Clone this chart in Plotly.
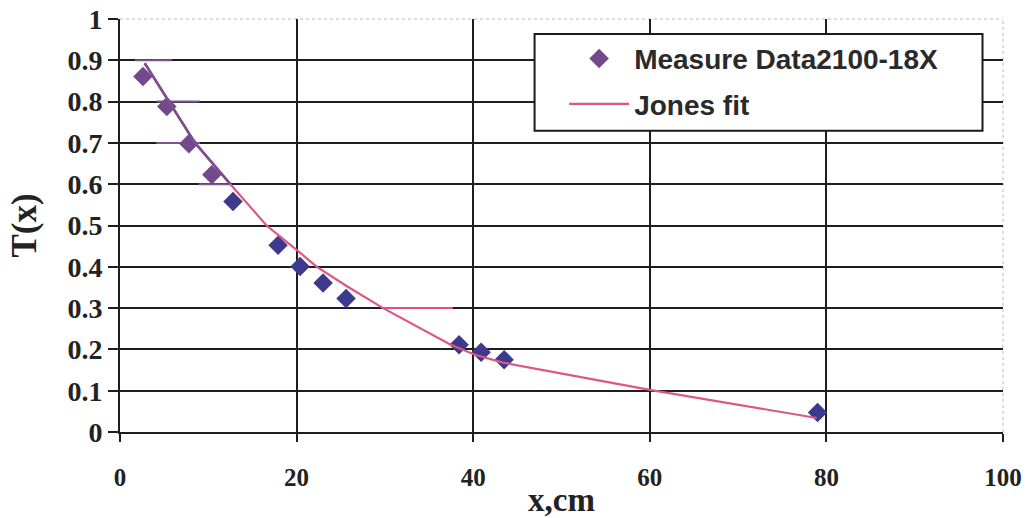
import plotly.graph_objects as go

# Measured transmission T(x) versus depth x (cm)
meas_x = [2.6, 5.3, 7.8, 10.4, 12.8, 17.9, 20.4, 23.0, 25.6, 38.4, 40.9, 43.5, 79.0]
meas_y = [0.861, 0.788, 0.698, 0.623, 0.558, 0.452, 0.401, 0.361, 0.323, 0.211, 0.193, 0.175, 0.047]
meas_colors = ["#74498c"] * 4 + ["#3d3a8e"] * 9

# Jones fit curve
fit_x = [2.8, 5.5, 8.5, 12.5, 16.6, 20.0, 22.3, 25.7, 29.8, 37.4, 40.2, 43.4, 60.0, 78.9]
fit_y = [0.893, 0.800, 0.700, 0.600, 0.500, 0.441, 0.400, 0.353, 0.300, 0.212, 0.187, 0.168, 0.102, 0.034]

# short horizontal marks along the fit
stub_y = [0.9, 0.8, 0.7, 0.6, 0.3]
stub_x0 = [1.7, 4.15, 4.1, 8.9, 29.8]
stub_x1 = [5.85, 9.0, 9.05, 12.5, 37.7]
stub_colors = ["#7e5493", "#7e5493", "#7e5493", "#7e5493", "#e0507e"]

x_ticks = [0, 20, 40, 60, 80, 100]
y_ticks = [0, 0.1, 0.2, 0.3, 0.4, 0.5, 0.6, 0.7, 0.8, 0.9, 1]
y_tick_text = ["0", "0.1", "0.2", "0.3", "0.4", "0.5", "0.6", "0.7", "0.8", "0.9", "1"]

PURPLE = "#7b4d91"
PINK = "#de5781"
INK = "#222222"
SERIF = "Liberation Serif, Times New Roman, serif"
SANS = "Liberation Sans, Arial, sans-serif"

fig = go.Figure()

for y, a, b, c in zip(stub_y, stub_x0, stub_x1, stub_colors):
    fig.add_trace(go.Scatter(x=[a, b], y=[y, y], mode="lines",
                             line=dict(color=c, width=2), showlegend=False,
                             hoverinfo="skip"))

fig.add_trace(go.Scatter(
    x=meas_x, y=meas_y, mode="markers", name="Measure Data2100-18X",
    marker=dict(symbol="diamond", size=15, color=meas_colors),
    legendgroup="a"))

fig.add_trace(go.Scatter(
    x=fit_x, y=fit_y, mode="lines", name="Jones fit",
    line=dict(color=PINK, width=2.2), legendgroup="b"))

# upper part of the fit curve rendered darker
fig.add_trace(go.Scatter(
    x=fit_x[:4], y=fit_y[:4], mode="lines", showlegend=False,
    line=dict(color=PURPLE, width=2.6), hoverinfo="skip"))

# hide the grid lines at the outer edges and draw light borders there
fig.add_shape(type="line", xref="paper", yref="paper", x0=0.002, x1=1, y0=1, y1=1,
              line=dict(color="white", width=3), layer="between")
fig.add_shape(type="line", xref="paper", yref="paper", x0=1, x1=1, y0=0.003, y1=1,
              line=dict(color="white", width=3), layer="between")
fig.add_shape(type="line", xref="paper", yref="paper", x0=0, x1=1, y0=1, y1=1,
              line=dict(color="#b8b8b8", width=1, dash="dot"), layer="between")
fig.add_shape(type="line", xref="paper", yref="paper", x0=1, x1=1, y0=0, y1=1,
              line=dict(color="#b8b8b8", width=1, dash="dot"), layer="between")

# legend frame
fig.add_shape(type="rect", xref="paper", yref="paper",
              x0=0.4695, x1=0.9768, y0=0.7295, y1=0.9637,
              line=dict(color="#1a1a1a", width=2), fillcolor="white", layer="above")

fig.update_layout(
    width=1035, height=518,
    margin=dict(l=120, r=32, t=19, b=86),
    paper_bgcolor="white", plot_bgcolor="white",
    showlegend=True,
    legend=dict(
        x=0.503, y=0.964, xanchor="left", yanchor="top",
        bgcolor="rgba(0,0,0,0)", borderwidth=0,
        font=dict(family=SANS, size=28, color="#2a2a2a", weight="bold"),
        traceorder="grouped", tracegroupgap=6, itemwidth=60,
    ),
    xaxis=dict(
        range=[0, 100], tickvals=x_ticks, ticktext=[str(v) for v in x_ticks],
        showgrid=True, gridcolor="#1e1e1e", gridwidth=2,
        showline=True, linecolor="#1e1e1e", linewidth=2, zeroline=False,
        ticks="outside", ticklen=8, tickwidth=2, tickcolor="#1e1e1e",
        tickfont=dict(family=SERIF, size=25, color=INK, weight="bold"),
        ticklabelstandoff=14, automargin=False,
        title=dict(text="x,cm", font=dict(family=SERIF, size=33, color=INK, weight="bold"),
                   standoff=0),
    ),
    yaxis=dict(
        range=[0, 1], tickvals=y_ticks, ticktext=y_tick_text,
        showgrid=True, gridcolor="#1e1e1e", gridwidth=2,
        showline=True, linecolor="#1e1e1e", linewidth=2, zeroline=False,
        ticks="outside", ticklen=10, tickwidth=2, tickcolor="#1e1e1e",
        tickfont=dict(family=SERIF, size=28, color=INK, weight="bold"),
        automargin=False,
        title=dict(text="T(x)", font=dict(family=SERIF, size=35, color=INK, weight="bold"),
                   standoff=20),
    ),
)

fig.write_html("out.html")
